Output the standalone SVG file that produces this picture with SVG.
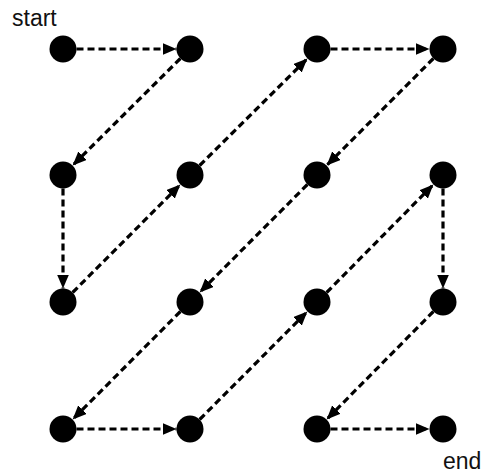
<svg xmlns="http://www.w3.org/2000/svg" width="486" height="474" viewBox="0 0 486 474">
<style>
.node{fill:#000}
.edge{stroke:#000;stroke-width:3.2;stroke-dasharray:7 4;fill:none;marker-end:url(#arr)}
.lbl{font-family:"Liberation Sans",Arial,sans-serif;font-size:23px;fill:#111}
</style>
<defs>
<marker id="arr" markerUnits="userSpaceOnUse" markerWidth="15" markerHeight="13" refX="14" refY="6" orient="auto">
<path d="M0,0 L14,6 L0,12 z" fill="#000"/>
</marker>
</defs>
<rect width="486" height="474" fill="#fff"/>
<g id="connectors">
<line class="edge" x1="76.5" y1="49" x2="176.5" y2="49"/>
<line class="edge" x1="180.4" y1="58.5" x2="72.6" y2="165.5"/>
<line class="edge" x1="63" y1="188.5" x2="63" y2="288.5"/>
<line class="edge" x1="72.6" y1="292.5" x2="180.4" y2="184.5"/>
<line class="edge" x1="199.6" y1="165.5" x2="307.4" y2="58.5"/>
<line class="edge" x1="330.5" y1="49" x2="429.5" y2="49"/>
<line class="edge" x1="433.4" y1="58.5" x2="326.6" y2="165.5"/>
<line class="edge" x1="307.4" y1="184.5" x2="199.6" y2="292.5"/>
<line class="edge" x1="180.4" y1="311.5" x2="72.6" y2="419.5"/>
<line class="edge" x1="76.5" y1="429" x2="176.5" y2="429"/>
<line class="edge" x1="199.6" y1="419.5" x2="307.4" y2="311.5"/>
<line class="edge" x1="326.6" y1="292.5" x2="433.4" y2="184.5"/>
<line class="edge" x1="443" y1="188.5" x2="443" y2="288.5"/>
<line class="edge" x1="433.4" y1="311.5" x2="326.6" y2="419.5"/>
<line class="edge" x1="330.5" y1="429" x2="429.5" y2="429"/>
</g>
<g id="n00"><circle class="node" cx="63" cy="49" r="13.5"/></g>
<g id="n10"><circle class="node" cx="190" cy="49" r="13.5"/></g>
<g id="n20"><circle class="node" cx="317" cy="49" r="13.5"/></g>
<g id="n30"><circle class="node" cx="443" cy="49" r="13.5"/></g>
<g id="n01"><circle class="node" cx="63" cy="175" r="13.5"/></g>
<g id="n11"><circle class="node" cx="190" cy="175" r="13.5"/></g>
<g id="n21"><circle class="node" cx="317" cy="175" r="13.5"/></g>
<g id="n31"><circle class="node" cx="443" cy="175" r="13.5"/></g>
<g id="n02"><circle class="node" cx="63" cy="302" r="13.5"/></g>
<g id="n12"><circle class="node" cx="190" cy="302" r="13.5"/></g>
<g id="n22"><circle class="node" cx="317" cy="302" r="13.5"/></g>
<g id="n32"><circle class="node" cx="443" cy="302" r="13.5"/></g>
<g id="n03"><circle class="node" cx="63" cy="429" r="13.5"/></g>
<g id="n13"><circle class="node" cx="190" cy="429" r="13.5"/></g>
<g id="n23"><circle class="node" cx="317" cy="429" r="13.5"/></g>
<g id="n33"><circle class="node" cx="443" cy="429" r="13.5"/></g>
<g id="labels">
<text class="lbl" x="12" y="26">start</text>
<text class="lbl" x="443" y="469">end</text>
</g>
</svg>
